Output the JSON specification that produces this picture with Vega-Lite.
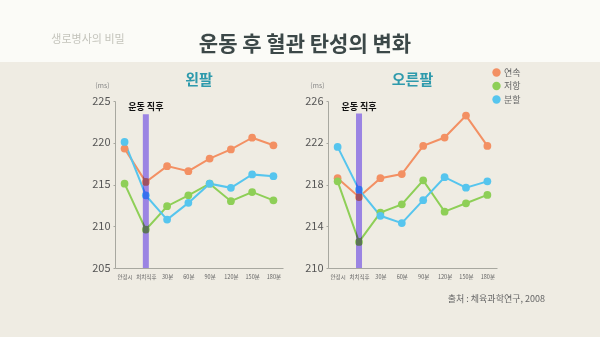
{
  "$schema": "https://vega.github.io/schema/vega-lite/v6.json",
  "padding": {"left": 0, "top": 0, "right": 0, "bottom": 45},
  "background": "#efece3",
  "config": {
    "font": "Noto Sans CJK KR",
    "view": {"stroke": null},
    "axis": {"grid": false, "domainColor": "#a8a8a0", "labelColor": "#555555", "tickColor": "#a8a8a0"}
  },
  "datasets": {
    "left": [
      {"time": "안정시", "series": "연속", "value": 219.3},
      {"time": "처치직후", "series": "연속", "value": 215.3},
      {"time": "30분", "series": "연속", "value": 217.2},
      {"time": "60분", "series": "연속", "value": 216.6},
      {"time": "90분", "series": "연속", "value": 218.1},
      {"time": "120분", "series": "연속", "value": 219.2},
      {"time": "150분", "series": "연속", "value": 220.6},
      {"time": "180분", "series": "연속", "value": 219.7},
      {"time": "안정시", "series": "저항", "value": 215.1},
      {"time": "처치직후", "series": "저항", "value": 209.6},
      {"time": "30분", "series": "저항", "value": 212.4},
      {"time": "60분", "series": "저항", "value": 213.7},
      {"time": "90분", "series": "저항", "value": 215.1},
      {"time": "120분", "series": "저항", "value": 213.0},
      {"time": "150분", "series": "저항", "value": 214.1},
      {"time": "180분", "series": "저항", "value": 213.1},
      {"time": "안정시", "series": "분할", "value": 220.1},
      {"time": "처치직후", "series": "분할", "value": 213.7},
      {"time": "30분", "series": "분할", "value": 210.8},
      {"time": "60분", "series": "분할", "value": 212.8},
      {"time": "90분", "series": "분할", "value": 215.1},
      {"time": "120분", "series": "분할", "value": 214.6},
      {"time": "150분", "series": "분할", "value": 216.2},
      {"time": "180분", "series": "분할", "value": 216.0}
    ],
    "right": [
      {"time": "안정시", "series": "연속", "value": 218.6},
      {"time": "처치직후", "series": "연속", "value": 216.8},
      {"time": "30분", "series": "연속", "value": 218.6},
      {"time": "60분", "series": "연속", "value": 219.0},
      {"time": "90분", "series": "연속", "value": 221.7},
      {"time": "120분", "series": "연속", "value": 222.5},
      {"time": "150분", "series": "연속", "value": 224.6},
      {"time": "180분", "series": "연속", "value": 221.7},
      {"time": "안정시", "series": "저항", "value": 218.3},
      {"time": "처치직후", "series": "저항", "value": 212.5},
      {"time": "30분", "series": "저항", "value": 215.3},
      {"time": "60분", "series": "저항", "value": 216.1},
      {"time": "90분", "series": "저항", "value": 218.4},
      {"time": "120분", "series": "저항", "value": 215.4},
      {"time": "150분", "series": "저항", "value": 216.2},
      {"time": "180분", "series": "저항", "value": 217.0},
      {"time": "안정시", "series": "분할", "value": 221.6},
      {"time": "처치직후", "series": "분할", "value": 217.5},
      {"time": "30분", "series": "분할", "value": 215.0},
      {"time": "60분", "series": "분할", "value": 214.3},
      {"time": "90분", "series": "분할", "value": 216.5},
      {"time": "120분", "series": "분할", "value": 218.7},
      {"time": "150분", "series": "분할", "value": 217.7},
      {"time": "180분", "series": "분할", "value": 218.3}
    ],
    "leftEvent": [{"time": "처치직후", "top": 223.4, "base": 205, "label": "운동 직후"}],
    "rightEvent": [{"time": "처치직후", "top": 224.8, "base": 210, "label": "운동 직후"}]
  },
  "title": {
    "text": "출처 : 체육과학연구, 2008",
    "orient": "bottom",
    "anchor": "end",
    "fontSize": 9,
    "fontWeight": "normal",
    "color": "#666666",
    "dx": -55,
    "offset": 15
  },
  "spacing": 10,
  "vconcat": [
    {
      "width": 600,
      "height": 62,
      "view": {"fill": "#fbfbf7", "stroke": null},
      "layer": [
        {
          "data": {"values": [{"t": "운동 후 혈관 탄성의 변화"}]},
          "mark": {"type": "text", "fontSize": 21, "fontWeight": "bold", "color": "#3c4848", "dy": 14, "dx": 5},
          "encoding": {"text": {"field": "t"}}
        },
        {
          "data": {"values": [{"t": "생로병사의 비밀"}]},
          "mark": {"type": "text", "fontSize": 11, "color": "#c4c4bc", "dy": 9, "dx": -212},
          "encoding": {"text": {"field": "t"}}
        }
      ]
    },
    {
      "spacing": 21,
      "resolve": {"scale": {"y": "independent"}},
      "hconcat": [
        {
          "width": 70,
          "height": 10,
          "data": {"values": []},
          "mark": {"type": "point", "opacity": 0},
          "encoding": {}
        },
        {
          "width": 168,
          "height": 167,
          "title": {"text": "왼팔", "fontSize": 15, "fontWeight": "bold", "color": "#2e9aac", "anchor": "middle", "offset": -6.5, "frame": "group"},
          "layer": [
            {
              "data": {"name": "left"},
              "mark": {"type": "line", "strokeWidth": 2, "point": {"filled": true, "size": 60, "opacity": 1}},
              "encoding": {
                "x": {"field": "time", "type": "nominal", "scale": {"type": "point", "padding": 0.45, "domain": ["안정시", "처치직후", "30분", "60분", "90분", "120분", "150분", "180분"]},
                  "axis": {"title": null, "labelAngle": 0, "labelFontSize": 5.5, "ticks": false, "labelPadding": 6, "labelColor": "#666666"}},
                "y": {"field": "value", "type": "quantitative", "scale": {"domain": [205, 225], "nice": false, "zero": false},
                  "axis": {"values": [205, 210, 215, 220, 225], "tickSize": 2, "labelFontSize": 11, "labelPadding": 3,
                    "title": "(ms)", "titleAngle": 0, "titleX": -13, "titleY": -13, "titleFontSize": 7, "titleFontWeight": "normal", "titleColor": "#888888", "titleAlign": "center"}},
                "color": {"field": "series", "type": "nominal", "scale": {"domain": ["연속", "저항", "분할"], "range": ["#f39063", "#8ecf57", "#56c5ee"]},
                  "legend": {"orient": "none", "legendX": 492, "legendY": 68, "title": null, "symbolType": "circle", "symbolSize": 70, "symbolStrokeWidth": 0, "labelFontSize": 9, "labelColor": "#666666", "rowPadding": 3.5, "labelOffset": 3}}
              }
            },
            {
              "data": {"name": "leftEvent"},
              "mark": {"type": "bar", "width": 6, "color": "#a58fff", "blend": "multiply"},
              "encoding": {
                "x": {"field": "time", "type": "nominal"},
                "y": {"field": "top", "type": "quantitative"},
                "y2": {"field": "base"}
              }
            },
            {
              "data": {"name": "leftEvent"},
              "mark": {"type": "text", "fontSize": 9, "fontWeight": "bold", "color": "#111111", "baseline": "bottom", "dy": -2},
              "encoding": {
                "x": {"field": "time", "type": "nominal"},
                "y": {"field": "top", "type": "quantitative"},
                "text": {"field": "label"}
              }
            }
          ]
        },
        {
          "width": 169,
          "height": 167,
          "title": {"text": "오른팔", "fontSize": 15, "fontWeight": "bold", "color": "#2e9aac", "anchor": "middle", "offset": -6.5, "frame": "group"},
          "layer": [
            {
              "data": {"name": "right"},
              "mark": {"type": "line", "strokeWidth": 2, "point": {"filled": true, "size": 60, "opacity": 1}},
              "encoding": {
                "x": {"field": "time", "type": "nominal", "scale": {"type": "point", "padding": 0.45, "domain": ["안정시", "처치직후", "30분", "60분", "90분", "120분", "150분", "180분"]},
                  "axis": {"title": null, "labelAngle": 0, "labelFontSize": 5.5, "ticks": false, "labelPadding": 6, "labelColor": "#666666"}},
                "y": {"field": "value", "type": "quantitative", "scale": {"domain": [210, 226], "nice": false, "zero": false},
                  "axis": {"values": [210, 214, 218, 222, 226], "tickSize": 2, "labelFontSize": 11, "labelPadding": 3,
                    "title": "(ms)", "titleAngle": 0, "titleX": -11, "titleY": -13, "titleFontSize": 7, "titleFontWeight": "normal", "titleColor": "#888888", "titleAlign": "center"}},
                "color": {"field": "series", "type": "nominal", "scale": {"domain": ["연속", "저항", "분할"], "range": ["#f39063", "#8ecf57", "#56c5ee"]},
                  "legend": {"orient": "none", "legendX": 492, "legendY": 68, "title": null, "symbolType": "circle", "symbolSize": 70, "symbolStrokeWidth": 0, "labelFontSize": 9, "labelColor": "#666666", "rowPadding": 3.5, "labelOffset": 3}}
              }
            },
            {
              "data": {"name": "rightEvent"},
              "mark": {"type": "bar", "width": 6, "color": "#a58fff", "blend": "multiply"},
              "encoding": {
                "x": {"field": "time", "type": "nominal"},
                "y": {"field": "top", "type": "quantitative"},
                "y2": {"field": "base"}
              }
            },
            {
              "data": {"name": "rightEvent"},
              "mark": {"type": "text", "fontSize": 9, "fontWeight": "bold", "color": "#111111", "baseline": "bottom", "dy": -2},
              "encoding": {
                "x": {"field": "time", "type": "nominal"},
                "y": {"field": "top", "type": "quantitative"},
                "text": {"field": "label"}
              }
            }
          ]
        }
      ]
    }
  ]
}
